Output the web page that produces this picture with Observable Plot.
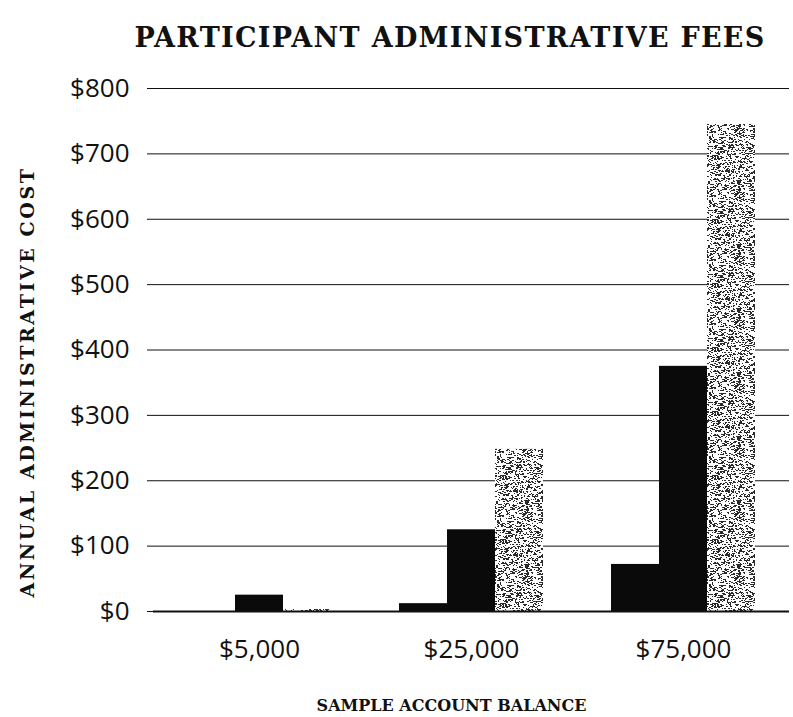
<!DOCTYPE html>
<html>
<head>
<meta charset="utf-8">
<script src="https://cdn.jsdelivr.net/npm/d3@7"></script>
<script src="https://cdn.jsdelivr.net/npm/@observablehq/plot@0.6"></script>
<style>
  body { margin: 0; background: #fff; }
  #wrap { width: 793px; position: relative; }
  #title { height: 64px; padding-top: 6px; line-height: 64px; padding-left: 107px; text-align: center;
           font-family: "DejaVu Serif", serif; font-weight: bold; font-size: 27px; letter-spacing: 1.3px; color: #111; white-space: nowrap; }
  #xlabel { height: 40px; line-height: 52px; text-align: center; box-sizing: border-box; padding-left: 110px;
            font-family: "DejaVu Serif", serif; font-weight: bold; font-size: 16px; color: #111; white-space: nowrap; }
  svg [aria-label="y-axis label"] { translate: 0px 32px; }
  svg [aria-label="y-axis label"] text { font-family: "DejaVu Serif", serif; font-weight: bold; font-size: 19px; letter-spacing: 2.6px; }
</style>
</head>
<body>
<div id="wrap">
  <div id="title">PARTICIPANT ADMINISTRATIVE FEES</div>
  <div id="chart"></div>
  <div id="xlabel">SAMPLE ACCOUNT BALANCE</div>
</div>
<script>
const balances = ["$5,000", "$25,000", "$75,000"];
const seriesNames = ["Fee A", "Fee B", "Fee C"];
const feeA = [0, 12, 72];
const feeB = [25, 125, 375];
const feeC = [3, 248, 745];
const yTicks = [0, 100, 200, 300, 400, 500, 600, 700, 800];

const seriesValues = [feeA, feeB, feeC];
const data = [];
balances.forEach((b, i) => {
  seriesNames.forEach((s, j) => data.push({balance: b, series: s, value: seriesValues[j][i]}));
});

const chart = Plot.plot({
  width: 793,
  height: 610,
  marginTop: 18,
  marginLeft: 152,
  marginRight: 3,
  marginBottom: 69,
  style: {background: "white", color: "#111"},
  fx: {domain: balances, padding: 0, label: null, axis: null},
  x: {domain: seriesNames, paddingInner: 0, paddingOuter: 0.7, axis: null},
  y: {domain: [0, 800]},
  color: {domain: seriesNames, range: ["#0a0a0a", "#0a0a0a", "url(#stip)"]},
  marks: [
    Plot.gridY(yTicks, {stroke: "#111", strokeOpacity: 1, strokeWidth: 1}),
    Plot.barY(data, {fx: "balance", x: "series", y: "value", fill: "series"}),
    Plot.ruleY([0], {stroke: "#111", strokeWidth: 2}),
    Plot.axisY(yTicks, {tickFormat: d => "$" + d, tickSize: 6, tickPadding: 18, fontSize: 26,
      fontFamily: "Open Sans", label: "ANNUAL ADMINISTRATIVE COST", labelAnchor: "center", labelArrow: "none", labelOffset: 133}),
    Plot.axisFx({anchor: "bottom", tickSize: 0, tickPadding: 28, fontSize: 26, fontFamily: "Open Sans", label: null})
  ]
});

// stipple texture (pattern, styling only)
const ns = "http://www.w3.org/2000/svg";
const defs = document.createElementNS(ns, "defs");
const pat = document.createElementNS(ns, "pattern");
pat.setAttribute("id", "stip");
pat.setAttribute("patternUnits", "userSpaceOnUse");
pat.setAttribute("width", 64);
pat.setAttribute("height", 64);
const bg = document.createElementNS(ns, "rect");
bg.setAttribute("width", 64); bg.setAttribute("height", 64); bg.setAttribute("fill", "white");
pat.appendChild(bg);
function hash(n) { const s = Math.sin(n * 12.9898 + 78.233) * 43758.5453; return s - Math.floor(s); }
let path = "";
for (let i = 0; i < 1150; i++) {
  const x = Math.floor(hash(i) * 64), y = Math.floor(hash(i + 5000) * 64);
  const w = hash(i + 9000) < 0.5 ? 1 : 2;
  path += `M${x},${y}h${w}v1h${-w}z`;
}
const p = document.createElementNS(ns, "path");
p.setAttribute("d", path); p.setAttribute("fill", "#2a2a2a");
pat.appendChild(p);
defs.appendChild(pat);
chart.insertBefore(defs, chart.firstChild);

document.getElementById("chart").appendChild(chart);
</script>
</body>
</html>
